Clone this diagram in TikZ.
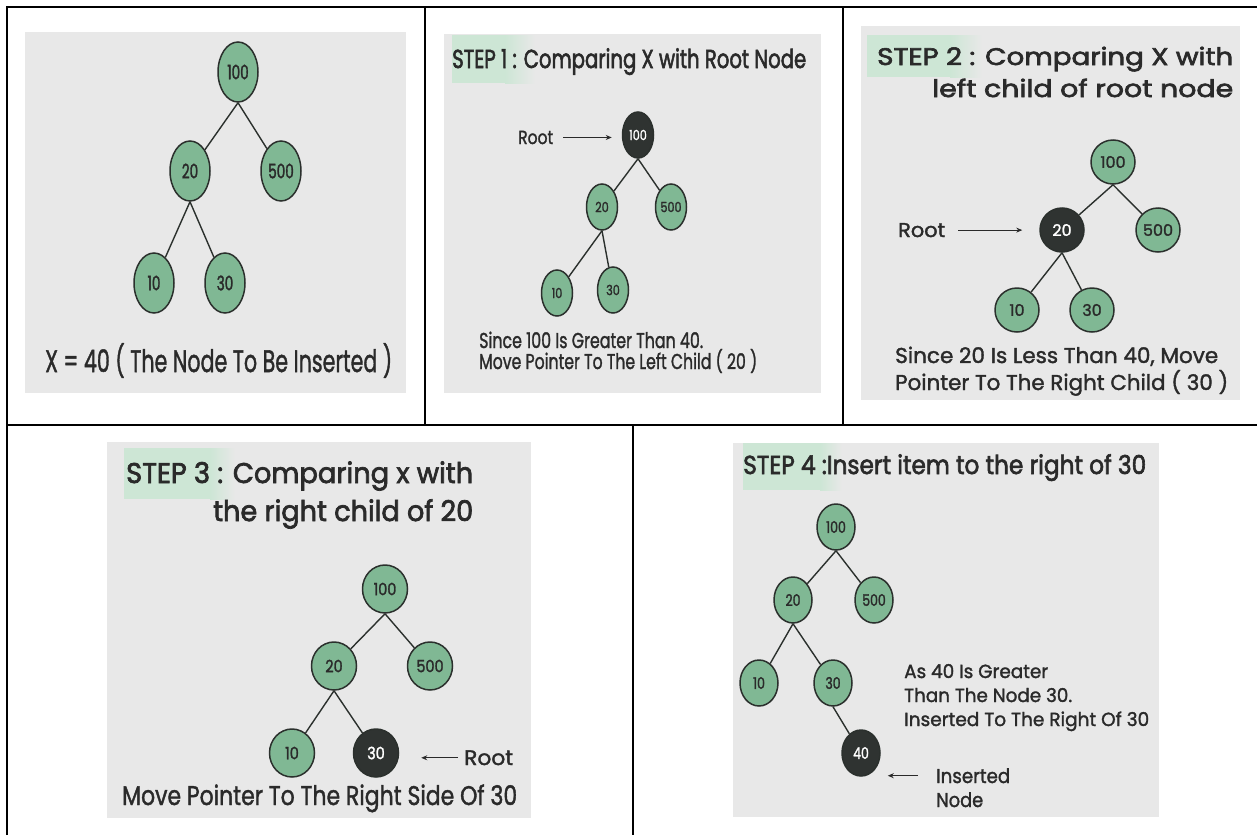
\documentclass[tikz,border=0pt]{standalone}
\usepackage{fontspec}
\usepackage{graphicx}
\setmainfont{Poppins}
\usetikzlibrary{shapes.geometric,arrows.meta}
\newfontfamily\pnA[FakeStretch=0.68,FakeBold=1.5]{Poppins}
\newfontfamily\pnB[FakeStretch=0.8,FakeBold=1.5]{Poppins}
\newfontfamily\pnC[FakeBold=1.5]{Poppins}
\newfontfamily\pnD[FakeStretch=0.85,FakeBold=1.5]{Poppins}
\newfontfamily\pnE[FakeStretch=0.78,FakeBold=1.5]{Poppins}
\newfontfamily\phd[FakeBold=2.5]{Poppins}
\newfontfamily\pbd[FakeBold=1.6]{Poppins}
\definecolor{gbg}{HTML}{E8E8E8}
\definecolor{hl}{HTML}{CDE6D5}
\definecolor{ngreen}{HTML}{80B894}
\definecolor{nedge}{HTML}{2B302D}
\definecolor{ndark}{HTML}{2F3331}
\definecolor{tcol}{HTML}{2A2A2A}
\newcommand\fitt[3]{\resizebox{#1pt}{\height}{\pbd\fontsize{#2}{#2}\selectfont #3}}
\newcommand\fith[3]{\resizebox{#1pt}{\height}{\phd\fontsize{#2}{#2}\selectfont #3}}
\begin{document}
\begin{tikzpicture}[x=1pt,y=-1pt,
  tn/.style={ellipse, draw=nedge, line width=1.5pt, fill=ngreen, inner sep=0pt, text=tcol},
  bn/.style={tn, fill=ndark, text=white},
  nA/.style={tn, minimum width=40pt, minimum height=60pt, font=\pnA\fontsize{20}{20}\selectfont},
  nB/.style={minimum width=31pt, minimum height=46pt, font=\pnB\fontsize{14}{14}\selectfont},
  nC/.style={minimum width=44pt, minimum height=44pt, font=\pnC\fontsize{16}{16}\selectfont},
  nD/.style={minimum width=45pt, minimum height=48pt, font=\pnD\fontsize{17}{17}\selectfont},
  nE/.style={minimum width=38pt, minimum height=46pt, font=\pnE\fontsize{16}{16}\selectfont},
  edge/.style={draw=nedge, line width=1.4pt},
  lbl/.style={anchor=base west, inner sep=0pt, text=tcol},
  ptr/.style={-{Stealth[length=6pt,width=5pt]}, line width=0.9pt, draw=tcol},
  grid/.style={draw=black, line width=2pt}
]
\useasboundingbox (0,0) rectangle (1257,835);
% panels
\fill[gbg] (25,32) rectangle (406,393);
\fill[gbg] (444,34) rectangle (821,393);
\fill[gbg] (861,26) rectangle (1240,400);
\fill[gbg] (107,442) rectangle (531,818);
\fill[gbg] (733,443) rectangle (1159,817);
% highlights
\fill[hl] (452,35) rectangle (505,83);
\shade[left color=hl,right color=gbg] (505,35) rectangle (535,83);
\fill[hl] (867,35) rectangle (950,77);
\shade[left color=hl,right color=gbg] (950,35) rectangle (982,77);
\fill[hl] (124,448) rectangle (210,499);
\shade[left color=hl,right color=gbg] (210,448) rectangle (235,499);
\fill[hl] (743,443) rectangle (820,490);
\shade[left color=hl,right color=gbg] (820,443) rectangle (842,490);
% grid lines
\draw[grid] (6.5,835) -- (6.5,7) -- (1257,7);
\draw[grid] (6.5,424.5) -- (1257,424.5);
\draw[grid] (424.5,7) -- (424.5,424.5);
\draw[grid] (842.5,7) -- (842.5,424.5);
\draw[grid] (633,424.5) -- (633,835);

% ---------- panel 1
\node[nA] (a100) at (238,72) {100};
\node[nA] (a20) at (190,171) {20};
\node[nA] (a500) at (281,171) {500};
\node[nA] (a10) at (154,283) {10};
\node[nA] (a30) at (225,283) {30};
\draw[edge] (a100.south) -- (a20);
\draw[edge] (a100.south) -- (a500);
\draw[edge] (a20.south) -- (a10);
\draw[edge] (a20.south) -- (a30);
\node[lbl] (t1) at (45,372) {\fitt{347}{31}{X = 40 ( The Node To Be Inserted )}};

% ---------- panel 2
\node[lbl] (h2) at (452,68) {\fith{354}{26}{STEP 1 : Comparing X with Root Node}};
\node[bn,nB] (b100) at (638,135) {100};
\node[tn,nB] (b20) at (602,207) {20};
\node[tn,nB] (b500) at (671,207) {500};
\node[tn,nB] (b10) at (557,293) {10};
\node[tn,nB] (b30) at (613,290) {30};
\draw[edge] (b100.south) -- (b20);
\draw[edge] (b100.south) -- (b500);
\draw[edge] (b20.south) -- (b10);
\draw[edge] (b20.south) -- (b30);
\node[lbl] (r2) at (518,144) {\fitt{35}{19}{Root}};
\draw[ptr, shorten <=10pt, shorten >=10pt] (r2.east) -- (r2.east -| b100.west);
\node[lbl] (s2a) at (479,348) {\fitt{224}{21.5}{Since 100 Is Greater Than 40.}};
\node[lbl] (s2b) at (479,369) {\fitt{278}{21.5}{Move Pointer To The Left Child ( 20 )}};

% ---------- panel 3
\node[lbl] (h3a) at (877,65) {\fith{356}{24}{STEP 2 : Comparing X with}};
\node[lbl] (h3b) at (932,97) {\fith{301}{24}{left child of root node}};
\node[tn,nC] (c100) at (1113,162) {100};
\node[bn,nC] (c20) at (1062,230) {20};
\node[tn,nC] (c500) at (1158,230) {500};
\node[tn,nC] (c10) at (1017,310) {10};
\node[tn,nC] (c30) at (1092,310) {30};
\draw[edge] (c100.south) -- (c20);
\draw[edge] (c100.south) -- (c500);
\draw[edge] (c20.south) -- (c10);
\draw[edge] (c20.south) -- (c30);
\node[lbl] (r3) at (898,237) {\fitt{47}{20}{Root}};
\draw[ptr, shorten <=13pt, shorten >=17pt] (r3.east) -- (r3.east -| c20.west);
\node[lbl] (s3a) at (895,363) {\fitt{323}{21.5}{Since 20 Is Less Than 40, Move}};
\node[lbl] (s3b) at (895,390) {\fitt{333}{21.5}{Pointer To The Right Child ( 30 )}};

% ---------- panel 4
\node[lbl] (h4a) at (126,483) {\fith{347}{28.5}{STEP 3 : Comparing x with}};
\node[lbl] (h4b) at (213,521) {\fith{260}{28.5}{the right child of 20}};
\node[tn,nD] (d100) at (385,589) {100};
\node[tn,nD] (d20) at (334,666) {20};
\node[tn,nD] (d500) at (430,666) {500};
\node[tn,nD] (d10) at (292,753) {10};
\node[bn,nD] (d30) at (376,753) {30};
\draw[edge] (d100.south) -- (d20);
\draw[edge] (d100.south) -- (d500);
\draw[edge] (d20.south) -- (d10);
\draw[edge] (d20.south) -- (d30);
\node[lbl] (r4) at (464,765) {\fitt{49}{21}{Root}};
\draw[ptr, shorten <=6pt, shorten >=22pt] (r4.west) -- (r4.west -| d30.east);
\node[lbl] (s4) at (122,805) {\fitt{395}{27}{Move Pointer To The Right Side Of 30}};

% ---------- panel 5
\node[lbl] (h5) at (743,474) {\fith{403}{26}{STEP 4 :Insert item to the right of 30}};
\node[tn,nE] (e100) at (836,527) {100};
\node[tn,nE] (e20) at (793,600) {20};
\node[tn,nE] (e500) at (874,600) {500};
\node[tn,nE] (e10) at (759,683) {10};
\node[tn,nE] (e30) at (833,683) {30};
\node[bn,nE] (e40) at (861,753) {40};
\draw[edge] (e100.south) -- (e20);
\draw[edge] (e100.south) -- (e500);
\draw[edge] (e20.south) -- (e10);
\draw[edge] (e20.south) -- (e30);
\draw[edge] (e30.south) -- (e40);
\node[lbl] (s5a) at (904,678) {\fitt{144}{19}{As 40 Is Greater}};
\node[lbl] (s5b) at (904,702) {\fitt{168}{19}{Than The Node 30.}};
\node[lbl] (s5c) at (904,726) {\fitt{245}{19}{Inserted To The Right Of 30}};
\node[lbl] (i5a) at (936,783) {\fitt{74}{20}{Inserted}};
\node[lbl] (i5b) at (936,807) {\fitt{47}{20}{Node}};
\draw[ptr, shorten <=18pt, shorten >=7pt] (i5a.west) -- (i5a.west -| e40.east);
\end{tikzpicture}
\end{document}
